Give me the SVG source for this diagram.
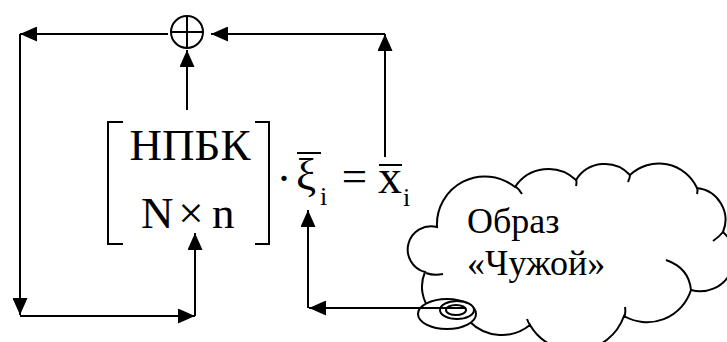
<svg xmlns="http://www.w3.org/2000/svg" width="727" height="342" viewBox="0 0 727 342">
<style>
.ln{fill:none;stroke:#000;stroke-width:2}
.sh{fill:#fff;stroke:#000;stroke-width:2}
text{font-family:'Liberation Serif','Times New Roman',Times,serif;fill:#000}
</style>
<defs>
<marker id="ah" markerWidth="17" markerHeight="15" refX="17" refY="7.5" orient="auto" markerUnits="userSpaceOnUse">
<path d="M0,0 L17,7.500 L0,15 z" fill="#000"/>
</marker>
</defs>
<rect width="727" height="342" fill="#fff"/>
<g id="sum">
<circle class="ln" cx="187" cy="32" r="16"/>
<path class="ln" d="M171,32 H203 M187,16 V48"/>
</g>
<g id="matrix" font-family="Liberation Serif, serif">
<path class="ln" d="M123,122 H108 V244 H123 M255,122 H269 V244 H255"/>
<text x="190" y="160" font-size="45" text-anchor="middle">НПБК</text>
<text x="141" y="228" font-size="45">N</text>
<text x="191" y="228" font-size="45" text-anchor="middle">×</text>
<text x="212" y="228" font-size="45">n</text>
</g>
<g id="formula" font-family="Liberation Serif, serif">
<text x="284" y="193" font-size="45" text-anchor="middle">·</text>
<text x="296" y="189" font-size="45">ξ</text>
<path class="ln" d="M297,153 H321"/>
<text x="320" y="205" font-size="26">i</text>
<text x="354.500" y="191" font-size="45" text-anchor="middle">=</text>
<text x="378" y="193" font-size="48">x</text>
<path class="ln" d="M379,165 H402"/>
<text x="403" y="206" font-size="26">i</text>
</g>
<g id="cloud" font-family="Liberation Serif, serif">
<path class="sh" d="M437,227 A48,48 0 0 1 515,187 A40,40 0 0 1 576,180 A34,34 0 0 1 630,175 A42,42 0 0 1 697,188 A32,32 0 0 1 723,232 A34,34 0 0 1 691,290 A46,46 0 0 1 624,316 A52,52 0 0 1 530,325 A45,45 0 0 1 470,322 A37,37 0 0 1 425,272 A20,20 0 0 1 437,227 Z"/>
<path class="ln" d="M515,186 Q519,189 522,194 M576,179 Q577,182 576,186 M630,175 Q630,178 628,182 M697,188 Q698,190 697,194 M723,232 Q719,237 713,241 M691,290 Q689,268 666,260 M624,318 Q626,313 625,307 M530,325 Q528,322 527,319 M426,273 Q434,276 443,274"/>
<ellipse class="sh" cx="447" cy="314" rx="29" ry="15"/>
<ellipse class="sh" cx="457" cy="310" rx="17" ry="9"/>
<ellipse class="sh" cx="456" cy="310" rx="10" ry="5"/>
<text x="467" y="233" font-size="36">Образ</text>
<text x="467" y="275" font-size="36">«Чужой»</text>
</g>
<g id="connectors" class="ln">
<path d="M168,34 H20" marker-end="url(#ah)"/>
<path d="M20,34 V315" marker-end="url(#ah)"/>
<path d="M20,316 H195" marker-end="url(#ah)"/>
<path d="M195,316 V233" marker-end="url(#ah)"/>
<path d="M187,110 V50" marker-end="url(#ah)"/>
<path d="M385,157 V34" marker-end="url(#ah)"/>
<path d="M385,34 H211" marker-end="url(#ah)"/>
<path d="M466,308 H309" marker-end="url(#ah)"/>
<path d="M308,308 V210" marker-end="url(#ah)"/>
</g>
</svg>
